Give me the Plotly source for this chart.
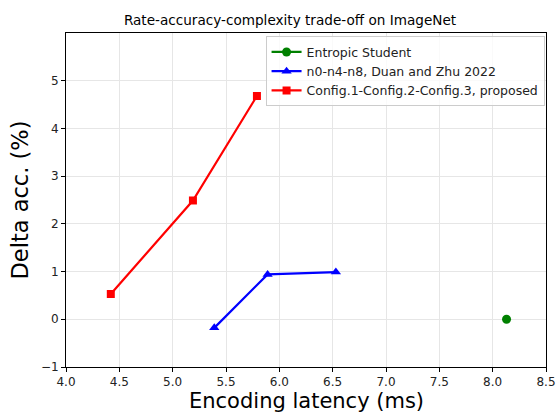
import plotly.graph_objects as go

es_x = [8.13]
es_y = [0.0]
duan_x = [5.39, 5.89, 6.53]
duan_y = [-0.18, 0.94, 0.99]
prop_x = [4.42, 5.19, 5.79]
prop_y = [0.53, 2.49, 4.68]

xticks = [4.0, 4.5, 5.0, 5.5, 6.0, 6.5, 7.0, 7.5, 8.0, 8.5]
yticks = [-1, 0, 1, 2, 3, 4, 5]

font = "DejaVu Sans"
fig = go.Figure()
fig.add_trace(go.Scatter(x=es_x, y=es_y, mode="lines+markers", name="Entropic Student",
                         line=dict(color="green", width=2.2), marker=dict(symbol="circle", size=9, color="green")))
fig.add_trace(go.Scatter(x=duan_x, y=duan_y, mode="lines+markers", name="n0-n4-n8, Duan and Zhu 2022",
                         line=dict(color="blue", width=2.2), marker=dict(symbol="triangle-up", size=9, color="blue")))
fig.add_trace(go.Scatter(x=prop_x, y=prop_y, mode="lines+markers", name="Config.1-Config.2-Config.3, proposed",
                         line=dict(color="red", width=2.2), marker=dict(symbol="square", size=8, color="red")))

axis_common = dict(showline=True, linecolor="black", linewidth=1, mirror=True,
                   showgrid=True, gridcolor="#e6e6e6", gridwidth=1, zeroline=False,
                   ticks="outside", ticklen=4, tickcolor="black", automargin=False,
                   tickfont=dict(family=font, size=12, color="#222"))
fig.update_xaxes(range=[4.0, 8.5], tickvals=xticks, ticktext=[f"{v:.1f}" for v in xticks],
                 **axis_common)
fig.update_yaxes(range=[-1, 6], tickvals=yticks, ticktext=["\u22121" if v < 0 else str(v) for v in yticks],
                 title=dict(text="Delta acc. (%)", font=dict(family=font, size=22.5, color="black"), standoff=6),
                 **axis_common)
fig.add_annotation(text="Encoding latency (ms)", xref="paper", yref="paper", x=0.5, y=-20 / 334,
                   xanchor="center", yanchor="top", showarrow=False,
                   font=dict(family=font, size=21, color="black"))
fig.update_layout(
    width=556, height=413,
    margin=dict(l=66, r=10, t=33, b=46),
    paper_bgcolor="white", plot_bgcolor="white",
    title=dict(text="Rate-accuracy-complexity trade-off on ImageNet", x=290 / 556, xanchor="center",
               y=1 - 20 / 413, yanchor="middle", font=dict(family=font, size=13.6, color="black")),
    legend=dict(x=0.997, y=0.99, xanchor="right", yanchor="top", bgcolor="rgba(255,255,255,0.8)",
                bordercolor="#cccccc", borderwidth=1, font=dict(family=font, size=12.5, color="#222"),
                tracegroupgap=0, itemwidth=30),
    showlegend=True,
)
fig.write_html("out.html", config={"displayModeBar": False},
               post_script="document.body.style.margin='0';document.body.style.overflow='hidden';")
